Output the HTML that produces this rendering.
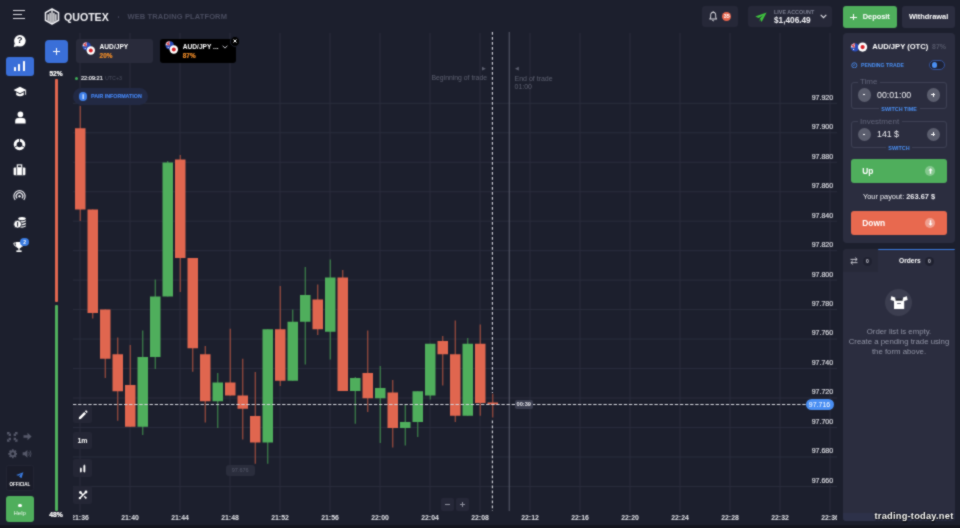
<!DOCTYPE html>
<html>
<head>
<meta charset="utf-8">
<title>Quotex</title>
<style>
*{box-sizing:border-box;margin:0;padding:0}
html,body{width:960px;height:528px;overflow:hidden;background:#1c1f2d;}
body{font-family:"Liberation Sans",sans-serif;color:#fff;position:relative;}
#wrap{position:absolute;left:0;top:0;width:960px;height:528px;overflow:hidden;background:#1c1f2d;filter:url(#soft);}
.abs{position:absolute}
#chartclip{position:absolute;left:73px;top:0;width:764px;height:528px;overflow:hidden}
#chartin{position:absolute;left:-73px;top:0;width:960px;height:528px}
.yl{position:absolute;left:790px;width:43.2px;text-align:right;font-size:7.05px;line-height:10px;color:#dcdde3;-webkit-text-stroke:0.18px #dcdde3;}
.xl{position:absolute;top:512.7px;width:40px;text-align:center;font-size:6.9px;line-height:10px;color:#e2e3e8;font-weight:bold}
.btn{position:absolute;border-radius:3px}
.t{position:absolute;white-space:nowrap;line-height:1}
.b{font-weight:bold}
.tool{position:absolute;left:73px;width:19px;height:17.6px;background:#242635;border-radius:2px}
.panel{position:absolute;left:842.5px;width:112.5px;background:#2b2d3f;border-radius:4px}
.fs{position:absolute;left:851.2px;width:95.6px;border:1px solid #3e4154;border-radius:3px}
.circ{position:absolute;width:13.4px;height:13.4px;border-radius:50%;background:#5b5e6e;color:#fff;text-align:center;font-size:9px;line-height:13px;font-weight:bold}
.mi{position:absolute;left:4.9px;top:6.2px;width:3.6px;height:1px;background:#fff}
.circ .mi:only-child{left:5.4px;width:2.6px}
.pl{position:absolute;left:6.2px;top:4.9px;width:1px;height:3.6px;background:#fff}
</style>
</head>
<body>
<svg width="0" height="0" style="position:absolute"><filter id="soft" x="0" y="0" width="100%" height="100%" color-interpolation-filters="sRGB"><feConvolveMatrix order="3" kernelMatrix="0.04 0.09 0.04 0.09 0.48 0.09 0.04 0.09 0.04" divisor="1" edgeMode="duplicate" preserveAlpha="true"/></filter></svg>
<div id="wrap">

<!-- bottom dark strip -->
<div class="abs" style="left:0;top:525px;width:960px;height:3px;background:#14151e"></div>

<!-- CHART -->
<div id="chartclip"><div id="chartin">
<svg class="abs" style="left:0;top:0" width="960" height="528" viewBox="0 0 960 528" shape-rendering="geometricPrecision">
<rect x="79.5" y="33" width="1" height="479" fill="#2a2d3d"/>
<rect x="129.5" y="33" width="1" height="479" fill="#2a2d3d"/>
<rect x="179.5" y="33" width="1" height="479" fill="#2a2d3d"/>
<rect x="229.5" y="33" width="1" height="479" fill="#2a2d3d"/>
<rect x="279.5" y="33" width="1" height="479" fill="#2a2d3d"/>
<rect x="329.5" y="33" width="1" height="479" fill="#2a2d3d"/>
<rect x="379.5" y="33" width="1" height="479" fill="#2a2d3d"/>
<rect x="429.5" y="33" width="1" height="479" fill="#2a2d3d"/>
<rect x="479.5" y="33" width="1" height="479" fill="#2a2d3d"/>
<rect x="529.5" y="33" width="1" height="479" fill="#2a2d3d"/>
<rect x="579.5" y="33" width="1" height="479" fill="#2a2d3d"/>
<rect x="629.5" y="33" width="1" height="479" fill="#2a2d3d"/>
<rect x="679.5" y="33" width="1" height="479" fill="#2a2d3d"/>
<rect x="729.5" y="33" width="1" height="479" fill="#2a2d3d"/>
<rect x="779.5" y="33" width="1" height="479" fill="#2a2d3d"/>
<rect x="829.5" y="33" width="1" height="479" fill="#2a2d3d"/>
<rect x="73" y="102.80" width="764" height="1" fill="#2a2d3d"/>
<rect x="73" y="132.27" width="764" height="1" fill="#2a2d3d"/>
<rect x="73" y="161.74" width="764" height="1" fill="#2a2d3d"/>
<rect x="73" y="191.21" width="764" height="1" fill="#2a2d3d"/>
<rect x="73" y="220.68" width="764" height="1" fill="#2a2d3d"/>
<rect x="73" y="250.15" width="764" height="1" fill="#2a2d3d"/>
<rect x="73" y="279.62" width="764" height="1" fill="#2a2d3d"/>
<rect x="73" y="309.09" width="764" height="1" fill="#2a2d3d"/>
<rect x="73" y="338.56" width="764" height="1" fill="#2a2d3d"/>
<rect x="73" y="368.03" width="764" height="1" fill="#2a2d3d"/>
<rect x="73" y="397.50" width="764" height="1" fill="#2a2d3d"/>
<rect x="73" y="426.97" width="764" height="1" fill="#2a2d3d"/>
<rect x="73" y="456.44" width="764" height="1" fill="#2a2d3d"/>
<rect x="73" y="485.91" width="764" height="1" fill="#2a2d3d"/>
<line x1="492.4" y1="32" x2="492.4" y2="393" stroke="#dcdde4" stroke-width="1.1" stroke-dasharray="2.7 2.3"/>
<line x1="492.4" y1="420.5" x2="492.4" y2="511" stroke="#dcdde4" stroke-width="1.1" stroke-dasharray="2.7 2.3"/>
<rect x="508.7" y="32" width="1.1" height="479" fill="#555866"/>
<rect x="79.70" y="106" width="1.1" height="115.00" fill="#a85040"/>
<rect x="75.00" y="128.25" width="10.5" height="81.25" fill="#e0664f"/>
<rect x="92.20" y="209.5" width="1.1" height="109.00" fill="#a85040"/>
<rect x="87.50" y="209.5" width="10.5" height="103.50" fill="#e0664f"/>
<rect x="104.70" y="309.5" width="1.1" height="68.50" fill="#a85040"/>
<rect x="100.00" y="309.5" width="10.5" height="49.25" fill="#e0664f"/>
<rect x="117.20" y="337.5" width="1.1" height="83.25" fill="#a85040"/>
<rect x="112.50" y="354.25" width="10.5" height="37.00" fill="#e0664f"/>
<rect x="129.70" y="345" width="1.1" height="81.75" fill="#a85040"/>
<rect x="125.00" y="385" width="10.5" height="41.75" fill="#e0664f"/>
<rect x="142.20" y="330.5" width="1.1" height="104.50" fill="#408a4e"/>
<rect x="137.50" y="357" width="10.5" height="69.75" fill="#4fae5c"/>
<rect x="154.70" y="279.5" width="1.1" height="89.50" fill="#408a4e"/>
<rect x="150.00" y="296.5" width="10.5" height="60.50" fill="#4fae5c"/>
<rect x="167.20" y="161" width="1.1" height="135.50" fill="#408a4e"/>
<rect x="162.50" y="162.5" width="10.5" height="134.00" fill="#4fae5c"/>
<rect x="179.70" y="155" width="1.1" height="137.00" fill="#a85040"/>
<rect x="175.00" y="159.5" width="10.5" height="98.50" fill="#e0664f"/>
<rect x="192.20" y="258" width="1.1" height="113.75" fill="#a85040"/>
<rect x="187.50" y="258" width="10.5" height="90.25" fill="#e0664f"/>
<rect x="204.70" y="346" width="1.1" height="76.50" fill="#a85040"/>
<rect x="200.00" y="354.25" width="10.5" height="47.00" fill="#e0664f"/>
<rect x="217.20" y="373" width="1.1" height="55.00" fill="#408a4e"/>
<rect x="212.50" y="382.5" width="10.5" height="18.75" fill="#4fae5c"/>
<rect x="229.70" y="328.75" width="1.1" height="66.75" fill="#a85040"/>
<rect x="225.00" y="382.5" width="10.5" height="13.00" fill="#e0664f"/>
<rect x="242.20" y="358.75" width="1.1" height="80.75" fill="#a85040"/>
<rect x="237.50" y="395.5" width="10.5" height="13.25" fill="#e0664f"/>
<rect x="254.70" y="372" width="1.1" height="91.75" fill="#a85040"/>
<rect x="250.00" y="416" width="10.5" height="26.50" fill="#e0664f"/>
<rect x="267.20" y="329.25" width="1.1" height="134.50" fill="#408a4e"/>
<rect x="262.50" y="329.25" width="10.5" height="113.25" fill="#4fae5c"/>
<rect x="279.70" y="286" width="1.1" height="100.00" fill="#a85040"/>
<rect x="275.00" y="329.25" width="10.5" height="51.50" fill="#e0664f"/>
<rect x="292.20" y="309.5" width="1.1" height="71.25" fill="#408a4e"/>
<rect x="287.50" y="321.75" width="10.5" height="59.00" fill="#4fae5c"/>
<rect x="304.70" y="267" width="1.1" height="97.50" fill="#408a4e"/>
<rect x="300.00" y="295" width="10.5" height="26.75" fill="#4fae5c"/>
<rect x="317.20" y="284.5" width="1.1" height="50.50" fill="#a85040"/>
<rect x="312.50" y="299.5" width="10.5" height="29.75" fill="#e0664f"/>
<rect x="329.70" y="259.5" width="1.1" height="100.00" fill="#408a4e"/>
<rect x="325.00" y="277.5" width="10.5" height="54.25" fill="#4fae5c"/>
<rect x="342.20" y="270" width="1.1" height="121.00" fill="#a85040"/>
<rect x="337.50" y="277.5" width="10.5" height="113.50" fill="#e0664f"/>
<rect x="354.70" y="377" width="1.1" height="46.75" fill="#408a4e"/>
<rect x="350.00" y="378" width="10.5" height="13.00" fill="#4fae5c"/>
<rect x="367.20" y="330.5" width="1.1" height="81.50" fill="#a85040"/>
<rect x="362.50" y="373" width="10.5" height="25.25" fill="#e0664f"/>
<rect x="379.70" y="366" width="1.1" height="77.00" fill="#408a4e"/>
<rect x="375.00" y="388" width="10.5" height="10.25" fill="#4fae5c"/>
<rect x="392.20" y="380" width="1.1" height="67.50" fill="#a85040"/>
<rect x="387.50" y="392.5" width="10.5" height="35.50" fill="#e0664f"/>
<rect x="404.70" y="405" width="1.1" height="40.50" fill="#408a4e"/>
<rect x="400.00" y="422" width="10.5" height="6.00" fill="#4fae5c"/>
<rect x="417.20" y="391.25" width="1.1" height="45.75" fill="#408a4e"/>
<rect x="412.50" y="391.25" width="10.5" height="30.75" fill="#4fae5c"/>
<rect x="429.70" y="343.75" width="1.1" height="55.75" fill="#408a4e"/>
<rect x="425.00" y="343.75" width="10.5" height="51.75" fill="#4fae5c"/>
<rect x="442.20" y="336" width="1.1" height="49.50" fill="#a85040"/>
<rect x="437.50" y="341" width="10.5" height="13.25" fill="#e0664f"/>
<rect x="454.70" y="320.5" width="1.1" height="101.50" fill="#a85040"/>
<rect x="450.00" y="354.25" width="10.5" height="61.50" fill="#e0664f"/>
<rect x="467.20" y="338" width="1.1" height="77.75" fill="#408a4e"/>
<rect x="462.50" y="343.75" width="10.5" height="72.00" fill="#4fae5c"/>
<rect x="479.70" y="324.5" width="1.1" height="91.25" fill="#a85040"/>
<rect x="475.00" y="343.75" width="10.5" height="59.25" fill="#e0664f"/>
<rect x="492.20" y="393.75" width="1.1" height="23.75" fill="#a85040"/>
<rect x="487.50" y="402.5" width="10.5" height="2.00" fill="#e0664f"/>
<!-- price dashed -->
<line x1="73" y1="404.5" x2="806" y2="404.5" stroke="#d4d5dc" stroke-width="1.05" stroke-dasharray="3.4 1.7"/>
</svg>
<div class="xl" style="left:60px">21:36</div>
<div class="xl" style="left:110px">21:40</div>
<div class="xl" style="left:160px">21:44</div>
<div class="xl" style="left:210px">21:48</div>
<div class="xl" style="left:260px">21:52</div>
<div class="xl" style="left:310px">21:56</div>
<div class="xl" style="left:360px">22:00</div>
<div class="xl" style="left:410px">22:04</div>
<div class="xl" style="left:460px">22:08</div>
<div class="xl" style="left:510px">22:12</div>
<div class="xl" style="left:560px">22:16</div>
<div class="xl" style="left:610px">22:20</div>
<div class="xl" style="left:660px">22:24</div>
<div class="xl" style="left:710px">22:28</div>
<div class="xl" style="left:760px">22:32</div>
<div class="xl" style="left:810px">22:36</div>

</div></div>
<div class="yl" style="top:92.7px">97.920</div>
<div class="yl" style="top:122.2px">97.900</div>
<div class="yl" style="top:151.6px">97.880</div>
<div class="yl" style="top:181.1px">97.860</div>
<div class="yl" style="top:210.5px">97.840</div>
<div class="yl" style="top:240.0px">97.820</div>
<div class="yl" style="top:269.5px">97.800</div>
<div class="yl" style="top:298.9px">97.780</div>
<div class="yl" style="top:328.4px">97.760</div>
<div class="yl" style="top:357.8px">97.740</div>
<div class="yl" style="top:387.3px">97.720</div>
<div class="yl" style="top:416.8px">97.700</div>
<div class="yl" style="top:446.2px">97.680</div>
<div class="yl" style="top:475.7px">97.660</div>


<!-- labels on chart -->
<div class="t" style="left:387px;width:100px;text-align:right;top:74.6px;font-size:6.85px;color:#5d6070">Beginning of trade</div>
<div class="t" style="left:482px;top:66px;font-size:5px;color:#5d6070">&#9654;</div>
<div class="t" style="left:514.5px;top:66px;font-size:5px;color:#5d6070">&#9664;</div>
<div class="t" style="left:514.5px;top:74.5px;font-size:7px;color:#5d6070">End of trade</div>
<div class="t" style="left:514.5px;top:83px;font-size:7px;color:#5d6070">01:00</div>

<!-- timer tag -->
<div class="abs" style="left:515px;top:400.3px;width:17.5px;height:8.6px;background:#3a3d4f;border-radius:2px"></div>
<div class="t b" style="left:515px;width:17.5px;text-align:center;top:401.9px;font-size:5.7px;color:#e6e6ec">00:39</div>

<!-- current price tag -->
<div class="abs" style="left:805.5px;top:399.3px;width:28px;height:11px;background:#4a8ff3;border-radius:5.5px"></div>
<div class="t" style="left:805.5px;width:28px;text-align:center;top:401.3px;font-size:7px;color:#fff">97.716</div>

<!-- low price tag -->
<div class="abs" style="left:225.7px;top:464.5px;width:29px;height:11.3px;background:#2a2d3c;border-radius:3px"></div>
<div class="t" style="left:225.7px;width:29px;text-align:center;top:467.5px;font-size:5.5px;color:#555869">97.676</div>

<!-- zoom buttons -->
<div class="abs" style="left:441px;top:497.5px;width:13px;height:13.2px;background:#262838;border-radius:2px"></div>
<div class="abs" style="left:456px;top:497.5px;width:13px;height:13.2px;background:#262838;border-radius:2px"></div>
<div class="abs" style="left:445px;top:503.7px;width:5px;height:1px;background:#8d8f9c"></div>
<div class="abs" style="left:460px;top:503.7px;width:5px;height:1px;background:#8d8f9c"></div>
<div class="abs" style="left:462px;top:501.7px;width:1px;height:5px;background:#8d8f9c"></div>

<!-- sentiment bar -->
<div class="t b" style="left:46px;width:20px;text-align:center;top:71.3px;font-size:6.6px;-webkit-text-stroke:0.2px #fff">52%</div>
<div class="abs" style="left:55.2px;top:79px;width:2.4px;height:223px;background:#e0664f;border-radius:1px"></div>
<div class="abs" style="left:55.2px;top:304.5px;width:2.4px;height:206px;background:#4fae5c;border-radius:1px"></div>
<div class="t b" style="left:46px;width:20px;text-align:center;top:512px;font-size:6.8px;-webkit-text-stroke:0.2px #fff">48%</div>

<!-- time stamp -->
<div class="abs" style="left:74.5px;top:77px;width:3px;height:3px;border-radius:50%;background:#3fae58"></div>
<div class="t" style="left:81px;top:76.2px;font-size:5.6px;color:#ececf0;-webkit-text-stroke:0.2px #ececf0">22:09:21</div>
<div class="t" style="left:105px;top:76.4px;font-size:5.3px;color:#4d5061">UTC+3</div>

<!-- pair info pill -->
<div class="abs" style="left:73px;top:88px;width:75px;height:17px;background:#222943;border-radius:8.5px"></div>
<div class="abs" style="left:78.8px;top:92.2px;width:8.6px;height:8.6px;background:#3f7fe8;border-radius:50%"></div>
<div class="t b" style="left:78.8px;width:8.6px;text-align:center;top:93.5px;font-size:6.5px;color:#fff">i</div>
<div class="t b" style="left:91px;top:94px;font-size:5.3px;color:#4484f0;-webkit-text-stroke:0.15px #4484f0">PAIR INFORMATION</div>

<!-- chart tools -->
<div class="tool" style="top:405.4px"></div>
<div class="tool" style="top:431.8px"></div>
<div class="tool" style="top:459.3px"></div>
<div class="tool" style="top:486.4px"></div>
<svg class="abs" style="left:77.5px;top:409.5px" width="10" height="10" viewBox="0 0 10 10"><path d="M1 7.2 L6.2 2 L8 3.8 L2.8 9 L0.8 9.3 Z M6.9 1.3 L7.7 0.5 Q8.1 0.2 8.5 0.6 L9.4 1.5 Q9.8 1.9 9.4 2.3 L8.7 3.1 Z" fill="#fff"/></svg>
<div class="t b" style="left:73px;width:19px;text-align:center;top:437.2px;font-size:7px">1m</div>
<svg class="abs" style="left:78px;top:463px" width="9" height="10" viewBox="0 0 9 10"><rect x="2" y="5" width="1.7" height="4" rx="0.4" fill="#fff"/><rect x="2.55" y="4.4" width="0.6" height="5.2" fill="#fff"/><rect x="5.4" y="2.2" width="1.9" height="6.8" rx="0.4" fill="#fff"/><rect x="6.05" y="1.5" width="0.6" height="8.1" fill="#fff"/></svg>
<svg class="abs" style="left:77.5px;top:490.2px" width="10" height="10" viewBox="0 0 10 10"><path d="M1.7 8.3 L8.2 1.8" stroke="#fff" stroke-width="1.5"/><path d="M2.2 2.2 L5 5 M6.2 6.2 L8 8" stroke="#fff" stroke-width="1.4"/><circle cx="8" cy="2" r="1.4" fill="#fff"/><circle cx="1.9" cy="8.1" r="1.2" fill="#fff"/><circle cx="2.4" cy="2.4" r="1.3" fill="#fff"/><circle cx="7.8" cy="7.8" r="0.9" fill="#fff"/></svg>

<!-- HEADER -->
<!-- hamburger -->
<div class="abs" style="left:13.3px;top:9.8px;width:11.7px;height:1.1px;background:#d6d7dd"></div>
<div class="abs" style="left:13.3px;top:14px;width:9px;height:1.1px;background:#d6d7dd"></div>
<div class="abs" style="left:13.3px;top:18.2px;width:11.7px;height:1.1px;background:#d6d7dd"></div>
<!-- logo -->
<svg class="abs" style="left:44px;top:8.2px" width="16" height="17" viewBox="0 0 16 17">
<path d="M8 1 L14.5 4.6 L14.5 12.4 L8 16 L1.5 12.4 L1.5 4.6 Z" fill="none" stroke="#f4f4f8" stroke-width="1.5" stroke-linejoin="round"/>
<rect x="3.5" y="6.2" width="1.25" height="6.6" fill="#fff"/>
<rect x="5.45" y="4.8" width="1.25" height="9.2" fill="#fff"/>
<rect x="7.38" y="2" width="1.25" height="13" fill="#fff"/>
<rect x="9.3" y="4.8" width="1.25" height="9.2" fill="#fff"/>
<rect x="11.25" y="6.2" width="1.25" height="6.6" fill="#fff"/>
</svg>
<div class="t b" style="left:64px;top:11.5px;font-size:10.6px;color:#f0f0f4">QUOTEX</div>
<div class="abs" style="left:117.5px;top:16.3px;width:1.3px;height:1.3px;border-radius:50%;background:#44475a"></div>
<div class="t b" style="left:127.5px;top:13.3px;font-size:7.5px;color:#4a4d60;letter-spacing:0.13px">WEB TRADING PLATFORM</div>

<!-- bell -->
<div class="btn" style="left:702px;top:6.3px;width:35.5px;height:21px;background:#262838"></div>
<svg class="abs" style="left:709.2px;top:11.3px" width="8.4" height="11" viewBox="0 0 10 11.5" preserveAspectRatio="none"><path d="M5 1.2 C7 1.2 8 2.8 8 4.6 L8 6.6 L9 8.4 L1 8.4 L2 6.6 L2 4.6 C2 2.8 3 1.2 5 1.2 Z" fill="none" stroke="#e0e0e6" stroke-width="1.05" stroke-linejoin="round"/><path d="M3.9 9.8 Q5 10.9 6.1 9.8" fill="none" stroke="#e0e0e6" stroke-width="1"/><circle cx="5" cy="0.9" r="0.7" fill="#e0e0e6"/></svg>
<div class="abs" style="left:722px;top:12px;width:9.4px;height:9.4px;border-radius:50%;background:#e8664f"></div>
<div class="t b" style="left:722px;width:9.4px;text-align:center;top:14.3px;font-size:5.4px;color:#fff">35</div>

<!-- account -->
<div class="btn" style="left:748.3px;top:6.3px;width:83.7px;height:21px;background:#262838"></div>
<svg class="abs" style="left:754.5px;top:11.5px" width="12" height="10.5" viewBox="0 0 12 10.5"><path d="M0.3 4.6 L11.6 0.4 L6.6 10 L4.9 6.6 L8.3 3.2 L3.6 6 Z" fill="#3fc23f"/><path d="M4.9 6.6 L4.4 9.6 L6 7.8 Z" fill="#2f9a2f"/></svg>
<div class="t b" style="left:774px;top:10px;font-size:5.4px;color:#7d8092">LIVE ACCOUNT</div>
<div class="t b" style="left:774px;top:17px;font-size:8.25px;color:#f2f2f6">$1,406.49</div>
<svg class="abs" style="left:819.5px;top:14px" width="7" height="5" viewBox="0 0 7 5"><path d="M0.7 0.9 L3.5 3.7 L6.3 0.9" fill="none" stroke="#e0e0e6" stroke-width="1.1"/></svg>

<!-- deposit -->
<div class="btn" style="left:843.2px;top:6.4px;width:53.6px;height:21.3px;background:#4fae5c"></div>
<div class="abs" style="left:850.4px;top:16.5px;width:6.4px;height:1.1px;background:#fff"></div>
<div class="abs" style="left:853.05px;top:13.8px;width:1.1px;height:6.4px;background:#fff"></div>
<div class="t b" style="left:862.7px;top:13.4px;font-size:7.4px">Deposit</div>
<!-- withdrawal -->
<div class="btn" style="left:902px;top:6.4px;width:53.2px;height:21.3px;background:#2b2d3f"></div>
<div class="t b" style="left:902px;width:53.2px;text-align:center;top:13.4px;font-size:7.4px">Withdrawal</div>

<!-- SIDEBAR -->
<!-- help bubble -->
<svg class="abs" style="left:13px;top:34px" width="14" height="14" viewBox="0 0 14 14"><circle cx="6.9" cy="6.8" r="5.8" fill="#fff"/><path d="M1.6 9.5 L0.8 13 L5 12" fill="#fff"/></svg>
<div class="t b" style="left:13px;width:13.6px;text-align:center;top:36.2px;font-size:9px;color:#1c1f2d">?</div>
<!-- active chart -->
<div class="btn" style="left:5.6px;top:56.5px;width:28.2px;height:19.8px;background:#3a6fd8"></div>
<div class="abs" style="left:13.8px;top:67.2px;width:1.9px;height:3.6px;background:#fff;border-radius:0.5px"></div>
<div class="abs" style="left:18.4px;top:64.2px;width:1.9px;height:6.6px;background:#fff;border-radius:0.5px"></div>
<div class="abs" style="left:23px;top:61.4px;width:1.9px;height:9.4px;background:#fff;border-radius:0.5px"></div>
<!-- grad cap -->
<svg class="abs" style="left:13px;top:86px" width="14" height="12" viewBox="0 0 14 12"><path d="M7 0.8 L13.4 4 L7 7.2 L0.6 4 Z" fill="#fff"/><path d="M3.2 6.2 L3.2 9 Q7 11.6 10.8 9 L10.8 6.2 L7 8.2 Z" fill="#fff"/><rect x="12.2" y="4.2" width="0.9" height="4.6" fill="#fff"/></svg>
<!-- person -->
<svg class="abs" style="left:13.5px;top:111px" width="13" height="13" viewBox="0 0 13 13"><circle cx="6.4" cy="3.4" r="2.8" fill="#fff"/><path d="M1.2 12.4 L1.2 10 Q1.2 7.2 4.2 7 L8.6 7 Q11.6 7.2 11.6 10 L11.6 12.4 Z" fill="#fff"/></svg>
<!-- donut -->
<svg class="abs" style="left:13px;top:137.7px" width="13" height="13" viewBox="0 0 13 13"><circle cx="6.5" cy="6.5" r="4.3" fill="none" stroke="#fff" stroke-width="3"/><path d="M6.5 6.5 L6.5 0 M6.5 6.5 L12 9.5 M6.5 6.5 L1 9.5" stroke="#1c1f2d" stroke-width="0.9"/></svg>
<!-- briefcase -->
<svg class="abs" style="left:13px;top:164px" width="13" height="12" viewBox="0 0 13 12"><rect x="0.6" y="3.4" width="11.8" height="7.8" rx="1" fill="#fff"/><rect x="4.3" y="0.9" width="4.4" height="3" fill="none" stroke="#fff" stroke-width="1.1"/><rect x="3.3" y="3.4" width="0.8" height="7.8" fill="#1c1f2d"/><rect x="8.9" y="3.4" width="0.8" height="7.8" fill="#1c1f2d"/></svg>
<!-- broadcast -->
<svg class="abs" style="left:13px;top:189px" width="13" height="13" viewBox="0 0 13 13"><path d="M2.2 10.8 A5.6 5.6 0 1 1 10.8 10.8" fill="none" stroke="#e8e8ee" stroke-width="1.2"/><path d="M4 9.3 A3.3 3.3 0 1 1 9 9.3" fill="none" stroke="#e8e8ee" stroke-width="1.2"/><circle cx="6.5" cy="7.2" r="1.2" fill="#e8e8ee"/></svg>
<!-- coins -->
<svg class="abs" style="left:12.5px;top:216px" width="14" height="13" viewBox="0 0 14 13"><ellipse cx="9" cy="2.6" rx="3.8" ry="1.7" fill="#fff"/><path d="M5.2 4.2 Q9 6.4 12.8 4.2 L12.8 5.6 Q9 7.8 5.2 5.6 Z M5.2 6.8 Q9 9 12.8 6.8 L12.8 8.2 Q9 10.4 5.2 8.2 Z M5.2 9.4 Q9 11.6 12.8 9.4 L12.8 10.6 Q9 12.8 5.2 10.6 Z" fill="#fff"/><circle cx="4.6" cy="8.2" r="3.9" fill="#fff" stroke="#1c1f2d" stroke-width="0.8"/><rect x="4.1" y="6" width="1" height="4.4" fill="#1c1f2d"/></svg>
<!-- trophy -->
<svg class="abs" style="left:13px;top:241.2px" width="12" height="12" viewBox="0 0 12 12"><path d="M2.8 1 L9.2 1 L9.2 4 Q9.2 7 6 7.4 Q2.8 7 2.8 4 Z" fill="#fff"/><path d="M2.8 2 L0.8 2 Q0.8 5 3.2 5.4 M9.2 2 L11.2 2 Q11.2 5 8.8 5.4" fill="none" stroke="#fff" stroke-width="0.9"/><rect x="5.4" y="7" width="1.2" height="2.4" fill="#fff"/><rect x="3.4" y="9.4" width="5.2" height="1.6" fill="#fff"/></svg>
<div class="abs" style="left:20.4px;top:237.6px;width:8.4px;height:8.4px;border-radius:50%;background:#3a7be0"></div>
<div class="t b" style="left:20.4px;width:8.4px;text-align:center;top:239.6px;font-size:5px;color:#fff">2</div>

<!-- bottom small icons -->
<svg class="abs" style="left:7px;top:432px" width="11" height="10" viewBox="0 0 11 10"><g stroke="#555869" stroke-width="1.1" fill="none"><path d="M0.6 0.6 L3.4 3.4 M0.6 2.6 L0.6 0.6 L2.6 0.6 M3.4 1.6 L3.4 3.4 L1.6 3.4"/><path d="M10 0.6 L7.2 3.4 M10 2.6 L10 0.6 L8 0.6 M7.2 1.6 L7.2 3.4 L9 3.4"/><path d="M0.6 9.2 L3.4 6.4 M0.6 7.2 L0.6 9.2 L2.6 9.2 M3.4 8.2 L3.4 6.4 L1.6 6.4"/><path d="M10 9.2 L7.2 6.4 M10 7.2 L10 9.2 L8 9.2 M7.2 8.2 L7.2 6.4 L9 6.4"/></g></svg>
<svg class="abs" style="left:22.5px;top:432.3px" width="9" height="9" viewBox="0 0 9 9"><path d="M0.5 3.3 L4.5 3.3 L4.5 0.8 L8.6 4.5 L4.5 8.2 L4.5 5.7 L0.5 5.7 Z" fill="#555869"/></svg>
<svg class="abs" style="left:7.5px;top:449.3px" width="9.6" height="9.6" viewBox="0 0 10 10"><circle cx="5" cy="5" r="2.6" fill="none" stroke="#555869" stroke-width="2"/><g stroke="#555869" stroke-width="1.8"><path d="M5 0.3 L5 2 M5 8 L5 9.7 M0.3 5 L2 5 M8 5 L9.7 5 M1.7 1.7 L2.9 2.9 M7.1 7.1 L8.3 8.3 M1.7 8.3 L2.9 7.1 M7.1 2.9 L8.3 1.7"/></g></svg>
<svg class="abs" style="left:22px;top:449.3px" width="10" height="9.6" viewBox="0 0 10 10"><path d="M0.5 3.4 L2.6 3.4 L5.4 1 L5.4 9 L2.6 6.6 L0.5 6.6 Z" fill="#555869"/><path d="M6.8 3 Q8 5 6.8 7 M8.2 1.6 Q10.2 5 8.2 8.4" fill="none" stroke="#555869" stroke-width="0.9"/></svg>
<!-- official -->
<div class="abs" style="left:6px;top:464.6px;width:27.8px;height:26px;background:#1a1c29;border:0.8px solid #222433;border-radius:2.5px"></div>
<svg class="abs" style="left:16.2px;top:471.6px" width="7.6" height="6.8" viewBox="0 0 12 10.5"><path d="M0.3 4.6 L11.6 0.4 L8.6 10 L4.9 6.6 L8.3 3.2 L3.6 6 Z" fill="#3a7be0"/></svg>
<div class="t b" style="left:6.3px;width:27px;text-align:center;top:482.6px;font-size:4.5px;color:#fff">OFFICIAL</div>
<!-- help -->
<div class="btn" style="left:5.5px;top:496.3px;width:28.4px;height:26px;background:#4fae5c"></div>
<div class="abs" style="left:17.9px;top:503.7px;width:3.8px;height:3.8px;border-radius:50%;background:#fff"></div>
<div class="t" style="left:5.5px;width:28.4px;text-align:center;top:510px;font-size:6px;color:#e8f5ea">Help</div>

<!-- TABS -->
<div class="btn" style="left:45px;top:40px;width:22.5px;height:22.5px;background:#3a6fd8;border-radius:4px"></div>
<div class="abs" style="left:53px;top:50.7px;width:6.6px;height:1.1px;background:#fff"></div>
<div class="abs" style="left:55.75px;top:47.95px;width:1.1px;height:6.6px;background:#fff"></div>

<div class="btn" style="left:76.3px;top:39px;width:76.7px;height:24.3px;background:#292b3b"></div>
<svg class="abs" style="left:82px;top:40.5px" width="15" height="15" viewBox="0 0 15 15"><circle cx="4.7" cy="5.3" r="4.1" fill="#2b4bb8"/><path d="M4.7 1.2 A4.1 4.1 0 0 0 0.6 5.3 L4.7 5.3 Z" fill="#dfe3f0"/><path d="M1.3 2.6 L4.7 5.3 M4.3 1.3 L2.6 5.2" stroke="#e0484a" stroke-width="1.1"/><circle cx="3.2" cy="7.4" r="0.55" fill="#fff"/><circle cx="8.8" cy="9.5" r="4.2" fill="#fff"/><circle cx="8.8" cy="9.5" r="2" fill="#d8232a"/></svg>
<div class="t b" style="left:99.6px;top:44px;font-size:6.6px">AUD/JPY</div>
<div class="t b" style="left:99.6px;top:52.6px;font-size:6.4px;color:#f08c28;-webkit-text-stroke:0.2px #f08c28">20%</div>

<div class="btn" style="left:160px;top:39px;width:75.8px;height:23.8px;background:#000"></div>
<svg class="abs" style="left:164.8px;top:40.3px" width="15" height="15" viewBox="0 0 15 15"><circle cx="4.7" cy="5.3" r="4.1" fill="#2b4bb8"/><path d="M4.7 1.2 A4.1 4.1 0 0 0 0.6 5.3 L4.7 5.3 Z" fill="#dfe3f0"/><path d="M1.3 2.6 L4.7 5.3 M4.3 1.3 L2.6 5.2" stroke="#e0484a" stroke-width="1.1"/><circle cx="3.2" cy="7.4" r="0.55" fill="#fff"/><circle cx="8.8" cy="9.5" r="4.2" fill="#fff"/><circle cx="8.8" cy="9.5" r="2" fill="#d8232a"/></svg>
<div class="t b" style="left:182.8px;top:44px;font-size:6.6px">AUD/JPY ...</div>
<div class="t b" style="left:182.8px;top:52.6px;font-size:6.4px;color:#f08c28;-webkit-text-stroke:0.2px #f08c28">87%</div>
<svg class="abs" style="left:222px;top:44.7px" width="6" height="4" viewBox="0 0 6 4"><path d="M0.6 0.7 L3 3.1 L5.4 0.7" fill="none" stroke="#e0e0e6" stroke-width="0.9"/></svg>
<div class="abs" style="left:229.6px;top:36.2px;width:10.4px;height:10.4px;border-radius:50%;background:#000;border:0.8px solid #1c1f2d"></div>
<svg class="abs" style="left:232.8px;top:39.4px" width="4" height="4" viewBox="0 0 4 4"><path d="M0.5 0.5 L3.5 3.5 M3.5 0.5 L0.5 3.5" stroke="#fff" stroke-width="1"/></svg>

<!-- RIGHT PANEL 1 -->
<div class="panel" style="top:33.4px;height:209.3px"></div>
<svg class="abs" style="left:849.5px;top:41.5px" width="18" height="11" viewBox="0 0 18 11"><circle cx="5" cy="5.4" r="4.2" fill="#2b4bb8"/><path d="M5 1.2 A4.2 4.2 0 0 0 0.8 5.4 L5 5.4 Z" fill="#dfe3f0"/><path d="M1.5 2.7 L5 5.4 M4.6 1.3 L2.9 5.3" stroke="#e0484a" stroke-width="1.1"/><circle cx="3.6" cy="7.4" r="0.6" fill="#fff"/><circle cx="12.6" cy="5.1" r="4.6" fill="#fff"/><circle cx="12.6" cy="5.1" r="2.1" fill="#d8232a"/></svg>
<div class="t b" style="left:872.3px;top:43px;font-size:7.6px">AUD/JPY (OTC)</div>
<div class="t b" style="left:932px;top:43.4px;font-size:7px;color:#55586a">87%</div>

<svg class="abs" style="left:851.3px;top:61.8px" width="6.6" height="6.6" viewBox="0 0 7 7"><circle cx="3.5" cy="3.5" r="2.7" fill="none" stroke="#4a8ff3" stroke-width="0.9"/><path d="M3.5 2 L3.5 3.7 L2.3 3.7" fill="none" stroke="#4a8ff3" stroke-width="0.7"/></svg>
<div class="t b" style="left:861px;top:62.5px;font-size:5.2px;color:#4a8ff3">PENDING TRADE</div>
<div class="abs" style="left:928.5px;top:60px;width:16px;height:9.8px;border-radius:5px;background:#1f2233;border:0.8px solid #33529a"></div>
<div class="abs" style="left:931.5px;top:62px;width:5.8px;height:5.8px;border-radius:50%;background:#4a8ff3"></div>

<div class="fs" style="top:81.8px;height:27px"></div>
<div class="t" style="left:857.5px;top:78.3px;padding:0 2.5px;background:#2b2d3f;font-size:8px;color:#62657a">Time</div>
<div class="circ" style="left:857.5px;top:88.3px"><i class="mi"></i></div>
<div class="circ" style="left:926.6px;top:88.3px"><i class="mi"></i><i class="pl"></i></div>
<div class="t" style="left:877px;top:90.6px;font-size:8.8px;color:#f0f0f4">00:01:00</div>
<div class="t b" style="left:878.5px;top:106.8px;padding:0 2.8px;background:#2b2d3f;font-size:5.4px;color:#4a8ff3">SWITCH TIME</div>

<div class="fs" style="top:120.7px;height:27.3px"></div>
<div class="t" style="left:857.5px;top:118px;padding:0 2.5px;background:#2b2d3f;font-size:8px;color:#62657a">Investment</div>
<div class="circ" style="left:857.5px;top:127.5px"><i class="mi"></i></div>
<div class="circ" style="left:926.6px;top:127.5px"><i class="mi"></i><i class="pl"></i></div>
<div class="t" style="left:877px;top:129.8px;font-size:8.8px;color:#f0f0f4">141 $</div>
<div class="t b" style="left:885.5px;top:145.8px;padding:0 2.8px;background:#2b2d3f;font-size:5.4px;color:#4a8ff3">SWITCH</div>

<div class="btn" style="left:851px;top:158.7px;width:96px;height:24.6px;background:#4fae5c"></div>
<div class="t b" style="left:862.3px;top:167px;font-size:8.4px">Up</div>
<div class="abs" style="left:924.8px;top:166px;width:10.4px;height:10.4px;border-radius:50%;background:#86c88f"></div>
<svg class="abs" style="left:927.5px;top:168.2px" width="5" height="6" viewBox="0 0 5 6"><path d="M2.5 0.3 L4.6 2.6 L3.2 2.6 L3.2 5.7 L1.8 5.7 L1.8 2.6 L0.4 2.6 Z" fill="#fff"/></svg>

<div class="t" style="left:843px;width:112px;text-align:center;top:192.8px;font-size:7.4px;color:#f0f0f4">Your payout: <b>263.67 $</b></div>

<div class="btn" style="left:851px;top:210.8px;width:96px;height:24.6px;background:#e8694f"></div>
<div class="t b" style="left:862.3px;top:219px;font-size:8.4px">Down</div>
<div class="abs" style="left:924.8px;top:218px;width:10.4px;height:10.4px;border-radius:50%;background:#f0a090"></div>
<svg class="abs" style="left:927.5px;top:220.2px" width="5" height="6" viewBox="0 0 5 6"><path d="M2.5 5.7 L4.6 3.4 L3.2 3.4 L3.2 0.3 L1.8 0.3 L1.8 3.4 L0.4 3.4 Z" fill="#fff"/></svg>

<!-- RIGHT PANEL 2 -->
<div class="panel" style="top:249px;height:271.8px"></div>
<div class="abs" style="left:842.5px;top:512.5px;width:112.5px;height:8.3px;background:#2d3149;border-radius:0 0 3px 3px"></div>
<div class="abs" style="left:842.5px;top:249px;width:35.8px;height:23px;background:#272939;border-radius:4px 0 0 0"></div>
<div class="abs" style="left:878.3px;top:248.6px;width:76.7px;height:1.7px;background:#3a7be0;border-radius:2px 2px 0 0"></div>
<svg class="abs" style="left:850px;top:257px" width="8" height="8" viewBox="0 0 8 8"><path d="M0.5 2.4 L7 2.4 M5.2 0.6 L7.2 2.4 L5.2 4.2 M7.5 5.6 L1 5.6 M2.8 3.8 L0.8 5.6 L2.8 7.4" fill="none" stroke="#d0d0d8" stroke-width="0.9"/></svg>
<div class="abs" style="left:862.8px;top:256.5px;width:9px;height:9px;border-radius:50%;background:#1f2130"></div>
<div class="t b" style="left:862.8px;width:9px;text-align:center;top:258.6px;font-size:5px;color:#d0d0d8">0</div>
<div class="t b" style="left:899px;top:257.8px;font-size:6.6px">Orders</div>
<div class="abs" style="left:924.9px;top:256.5px;width:9px;height:9px;border-radius:50%;background:#1f2130"></div>
<div class="t b" style="left:924.9px;width:9px;text-align:center;top:258.6px;font-size:5px;color:#d0d0d8">0</div>

<div class="abs" style="left:885.2px;top:288.8px;width:27.2px;height:27.2px;border-radius:50%;background:#3c3e50"></div>
<svg class="abs" style="left:888px;top:294px" width="22" height="17" viewBox="0 0 22 17"><rect x="6" y="4.9" width="10.2" height="10.2" rx="0.5" fill="#fff"/><rect x="7.4" y="4.8" width="7.3" height="1.9" fill="#23252f"/><rect x="9.1" y="9.2" width="3.8" height="0.8" fill="#3c3e50"/><path d="M3.3 2.2 L7.2 3.4 L7.2 7.2 L2.6 6 Z M18.9 2.2 L15 3.4 L15 7.2 L19.6 6 Z" fill="#fff"/></svg>
<div class="t" style="left:843px;width:112px;text-align:center;top:326.6px;font-size:7.8px;line-height:10.1px;color:#9194a5;white-space:normal">Order list is empty.<br>Create a pending trade using<br>the form above.</div>

<!-- watermark -->
<div class="t b" style="left:874.5px;top:511.6px;font-size:9.3px;letter-spacing:0.22px;color:#fff;text-shadow:0 0 1.5px #000,0 0 1.5px #000,0.5px 0.5px 1px #000">trading-today.net</div>

</div>
</body>
</html>
